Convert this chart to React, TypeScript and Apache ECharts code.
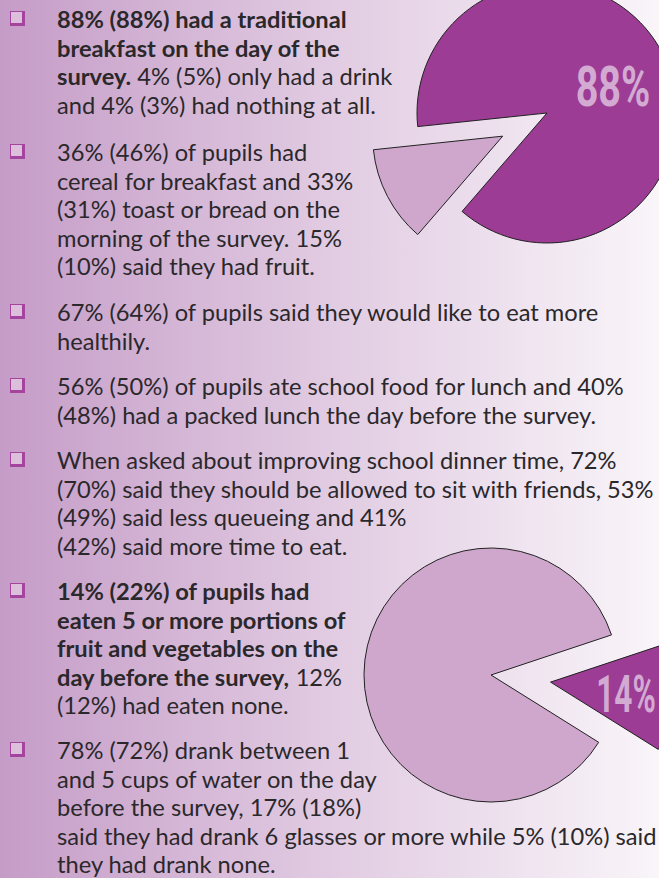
import React, { useEffect, useRef } from 'react';
import * as echarts from 'echarts';

// ---- Data ----
const breakfastNames = ['Traditional breakfast', 'Drink only / nothing'];
const breakfastValues = [88, 12];
const fruitVegNames = ['Did not eat 5 a day', '5 or more portions'];
const fruitVegValues = [86, 14];

const block1 = [
  '{b|88% (88%) had a traditional}',
  '{b|breakfast on the day of the}',
  '{b|survey.} 4% (5%) only had a drink',
  'and 4% (3%) had nothing at all.',
];
const block2 = [
  '36% (46%) of pupils had',
  'cereal for breakfast and 33%',
  '(31%) toast or bread on the',
  'morning of the survey. 15%',
  '(10%) said they had fruit.',
];
const block3 = ['67% (64%) of pupils said they would like to eat more', 'healthily.'];
const block4 = [
  '56% (50%) of pupils ate school food for lunch and 40%',
  '(48%) had a packed lunch the day before the survey.',
];
const block5 = [
  'When asked about improving school dinner time, 72%',
  '(70%) said they should be allowed to sit with friends, 53%',
  '(49%) said less queueing and 41%',
  '(42%) said more time to eat.',
];
const block6 = [
  '{b|14% (22%) of pupils had}',
  '{b|eaten 5 or more portions of}',
  '{b|fruit and vegetables on the}',
  '{b|day before the survey,} 12%',
  '(12%) had eaten none.',
];
const block7 = [
  '78% (72%) drank between 1',
  'and 5 cups of water on the day',
  'before the survey, 17% (18%)',
  'said they had drank 6 glasses or more while 5% (10%) said',
  'they had drank none.',
];
const blocks = [block1, block2, block3, block4, block5, block6, block7];
const blockTops = [19, 152, 312, 386, 460, 591, 750];

const DARK = '#9c3c94';
const LIGHT = '#cfa7cc';
const TEXT = '#2b282b';
const BULLET = '#a5449f';
const FONT = 'Lato, "Open Sans", sans-serif';

export default function App() {
  const ref = useRef<HTMLDivElement>(null);

  useEffect(() => {
    if (!ref.current) return;
    const chart = echarts.init(ref.current, undefined, { renderer: 'svg' });

    // fit font size so the longest line spans the same width as the reference
    let fontSize = 22;
    try {
      const ctx = document.createElement('canvas').getContext('2d');
      if (ctx) {
        ctx.font = '100px Lato';
        const w = ctx.measureText(block5[1]).width;
        if (w > 0) fontSize = Math.max(18, Math.min(26, (100 * 598) / w));
      }
    } catch (e) {}
    const lineH = 28.6;

    const graphics: any[] = [];
    blocks.forEach((lines, bi) => {
      const top = blockTops[bi];
      graphics.push({
        type: 'rect',
        silent: true,
        shape: { x: 10, y: top - 8, width: 15, height: 15 },
        style: { fill: BULLET },
      });
      graphics.push({
        type: 'rect',
        silent: true,
        shape: { x: 11, y: top - 7, width: 11, height: 11 },
        style: { fill: '#dbbfdb' },
      });
      lines.forEach((t, li) => {
        graphics.push({
          type: 'text',
          silent: true,
          x: 57,
          y: top + li * lineH,
          style: {
            text: t,
            fill: TEXT,
            fontSize,
            fontFamily: FONT,
            fontWeight: 'normal',
            textAlign: 'left',
            textVerticalAlign: 'middle',
            align: 'left',
            verticalAlign: 'middle',
            rich: {
              b: { fontWeight: 'bold', fontSize, fontFamily: FONT, fill: TEXT },
            },
          },
        });
      });
    });

    graphics.push({
      type: 'text',
      silent: true,
      z: 100,
      x: 613,
      y: 88,
      scaleX: 0.72,
      style: {
        text: `${breakfastValues[0]}%`,
        fill: '#d3aad2',
        fontSize: 55,
        fontWeight: 'bold',
        fontFamily: 'Roboto, sans-serif',
        textAlign: 'center',
        textVerticalAlign: 'middle',
        align: 'center',
        verticalAlign: 'middle',
      },
    });
    graphics.push({
      type: 'text',
      silent: true,
      z: 100,
      x: 626,
      y: 695,
      scaleX: 0.62,
      style: {
        text: `${fruitVegValues[1]}%`,
        fill: '#d3aad2',
        fontSize: 51,
        fontWeight: 'bold',
        fontFamily: 'Roboto, sans-serif',
        textAlign: 'center',
        textVerticalAlign: 'middle',
        align: 'center',
        verticalAlign: 'middle',
      },
    });

    chart.setOption({
      animation: false,
      backgroundColor: 'transparent',
      series: [
        {
          type: 'pie',
          silent: true,
          center: [547, 113],
          radius: 130,
          startAngle: 186,
          clockwise: true,
          selectedMode: 'multiple',
          selectedOffset: 50,
          label: { show: false },
          labelLine: { show: false },
          emphasis: { disabled: true },
          itemStyle: { borderColor: '#222', borderWidth: 1 },
          data: [
            { name: breakfastNames[0], value: breakfastValues[0], itemStyle: { color: DARK } },
            { name: breakfastNames[1], value: breakfastValues[1], selected: true, itemStyle: { color: LIGHT } },
          ],
        },
        {
          type: 'pie',
          silent: true,
          center: [491, 675],
          radius: 127,
          startAngle: 328,
          clockwise: true,
          selectedMode: 'multiple',
          selectedOffset: 60,
          label: { show: false },
          labelLine: { show: false },
          emphasis: { disabled: true },
          itemStyle: { borderColor: '#222', borderWidth: 1 },
          data: [
            { name: fruitVegNames[0], value: fruitVegValues[0], itemStyle: { color: LIGHT } },
            { name: fruitVegNames[1], value: fruitVegValues[1], selected: true, itemStyle: { color: DARK } },
          ],
        },
      ],
      graphic: { elements: graphics },
    });

    return () => chart.dispose();
  }, []);

  return (
    <div
      ref={ref}
      style={{
        position: 'fixed',
        left: 0,
        top: 0,
        width: 659,
        height: 878,
        background: 'linear-gradient(to right, #c59cc7 0%, #e1cbe2 50%, #f9f5f9 100%)',
      }}
    />
  );
}
